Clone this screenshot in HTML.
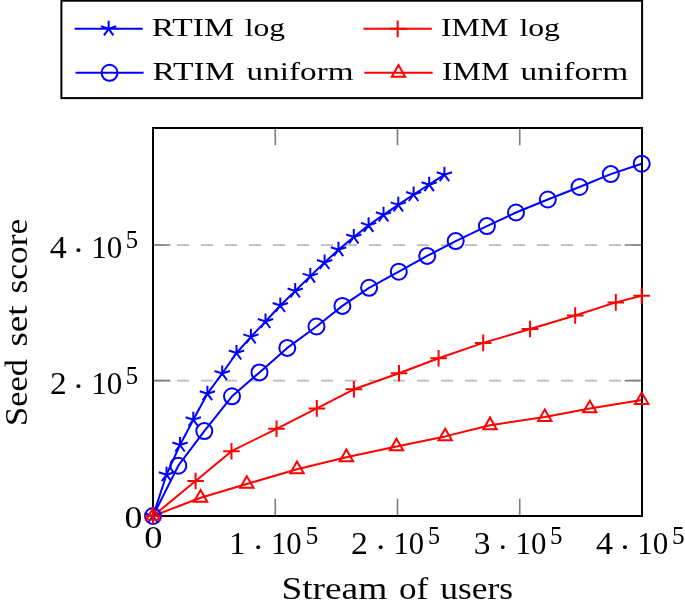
<!DOCTYPE html>
<html lang="en"><head><meta charset="utf-8"><title>Seed set score vs stream of users</title>
<style>html,body{margin:0;padding:0;background:#fff}body{width:685px;height:607px;overflow:hidden}svg{display:block}</style>
</head><body>
<svg width="685" height="607" viewBox="0 0 685 607" font-family="'Liberation Serif', serif" fill="#000">
<rect width="685" height="607" fill="#fff"/>
<line x1="153" x2="642" y1="380.65" y2="380.65" stroke="#bbbbbb" stroke-width="1.7" stroke-dasharray="12 12"/>
<line x1="153" x2="642" y1="245.05" y2="245.05" stroke="#bbbbbb" stroke-width="1.7" stroke-dasharray="12 12"/>
<path d="M153.00 516V498.7M153.00 128V145.3M275.25 516V498.7M275.25 128V145.3M397.50 516V498.7M397.50 128V145.3M519.75 516V498.7M519.75 128V145.3M642.00 516V498.7M642.00 128V145.3M153 516.00H170.3M642 516.00H624.7M153 380.65H170.3M642 380.65H624.7M153 245.05H170.3M642 245.05H624.7" stroke="#7c7c7c" stroke-width="1.6" fill="none"/>
<rect x="153" y="128" width="489" height="388" fill="none" stroke="#000" stroke-width="2.0"/>
<polyline points="153.0,516.0 166.5,474.7 180.0,445.0 193.3,419.7 207.4,393.7 222.2,373.5 236.5,353.0 250.9,336.9 265.5,321.5 280.3,305.5 295.2,291.0 310.3,276.1 324.6,262.5 338.5,249.7 353.8,237.0 368.6,225.4 383.5,214.8 398.3,204.9 413.6,194.5 429.2,184.7 444.4,174.7" stroke="#0000ff" stroke-width="2.0" fill="none" stroke-linejoin="round"/>
<polyline points="153.0,516.0 178.3,465.7 204.3,431.1 232.0,396.3 259.5,372.4 287.3,347.9 316.5,326.5 342.4,305.9 369.1,287.8 398.8,271.7 427.2,255.9 455.7,241.1 486.9,226.1 516.0,212.5 547.8,199.5 579.5,187.0 610.8,174.1 641.7,163.7" stroke="#0000ff" stroke-width="2.0" fill="none" stroke-linejoin="round"/>
<polyline points="153.0,516.0 195.6,481.0 231.5,451.2 276.5,428.8 316.8,408.4 353.9,389.3 399.0,373.3 438.6,358.2 483.2,342.9 530.1,329.0 575.2,315.5 615.8,302.4 641.7,295.7" stroke="#ff0000" stroke-width="2.0" fill="none" stroke-linejoin="round"/>
<polyline points="153.0,516.0 200.6,497.8 246.8,484.0 297.0,469.3 346.4,457.3 396.5,446.5 445.2,436.4 490.0,425.3 544.8,417.1 589.8,408.5 641.7,400.1" stroke="#ff0000" stroke-width="2.0" fill="none" stroke-linejoin="round"/>
<g stroke="#0000ff" stroke-width="2.0" fill="none">
<path d="M153.00 516.00L153.00 507.95M153.00 516.00L145.34 513.51M153.00 516.00L148.27 522.51M153.00 516.00L157.73 522.51M153.00 516.00L160.66 513.51M166.50 474.70L166.50 466.65M166.50 474.70L158.84 472.21M166.50 474.70L161.77 481.21M166.50 474.70L171.23 481.21M166.50 474.70L174.16 472.21M180.00 445.00L180.00 436.95M180.00 445.00L172.34 442.51M180.00 445.00L175.27 451.51M180.00 445.00L184.73 451.51M180.00 445.00L187.66 442.51M193.30 419.70L193.30 411.65M193.30 419.70L185.64 417.21M193.30 419.70L188.57 426.21M193.30 419.70L198.03 426.21M193.30 419.70L200.96 417.21M207.40 393.70L207.40 385.65M207.40 393.70L199.74 391.21M207.40 393.70L202.67 400.21M207.40 393.70L212.13 400.21M207.40 393.70L215.06 391.21M222.20 373.50L222.20 365.45M222.20 373.50L214.54 371.01M222.20 373.50L217.47 380.01M222.20 373.50L226.93 380.01M222.20 373.50L229.86 371.01M236.50 353.00L236.50 344.95M236.50 353.00L228.84 350.51M236.50 353.00L231.77 359.51M236.50 353.00L241.23 359.51M236.50 353.00L244.16 350.51M250.90 336.90L250.90 328.85M250.90 336.90L243.24 334.41M250.90 336.90L246.17 343.41M250.90 336.90L255.63 343.41M250.90 336.90L258.56 334.41M265.50 321.50L265.50 313.45M265.50 321.50L257.84 319.01M265.50 321.50L260.77 328.01M265.50 321.50L270.23 328.01M265.50 321.50L273.16 319.01M280.30 305.50L280.30 297.45M280.30 305.50L272.64 303.01M280.30 305.50L275.57 312.01M280.30 305.50L285.03 312.01M280.30 305.50L287.96 303.01M295.20 291.00L295.20 282.95M295.20 291.00L287.54 288.51M295.20 291.00L290.47 297.51M295.20 291.00L299.93 297.51M295.20 291.00L302.86 288.51M310.30 276.10L310.30 268.05M310.30 276.10L302.64 273.61M310.30 276.10L305.57 282.61M310.30 276.10L315.03 282.61M310.30 276.10L317.96 273.61M324.60 262.50L324.60 254.45M324.60 262.50L316.94 260.01M324.60 262.50L319.87 269.01M324.60 262.50L329.33 269.01M324.60 262.50L332.26 260.01M338.50 249.70L338.50 241.65M338.50 249.70L330.84 247.21M338.50 249.70L333.77 256.21M338.50 249.70L343.23 256.21M338.50 249.70L346.16 247.21M353.80 237.00L353.80 228.95M353.80 237.00L346.14 234.51M353.80 237.00L349.07 243.51M353.80 237.00L358.53 243.51M353.80 237.00L361.46 234.51M368.60 225.40L368.60 217.35M368.60 225.40L360.94 222.91M368.60 225.40L363.87 231.91M368.60 225.40L373.33 231.91M368.60 225.40L376.26 222.91M383.50 214.80L383.50 206.75M383.50 214.80L375.84 212.31M383.50 214.80L378.77 221.31M383.50 214.80L388.23 221.31M383.50 214.80L391.16 212.31M398.30 204.90L398.30 196.85M398.30 204.90L390.64 202.41M398.30 204.90L393.57 211.41M398.30 204.90L403.03 211.41M398.30 204.90L405.96 202.41M413.60 194.50L413.60 186.45M413.60 194.50L405.94 192.01M413.60 194.50L408.87 201.01M413.60 194.50L418.33 201.01M413.60 194.50L421.26 192.01M429.20 184.70L429.20 176.65M429.20 184.70L421.54 182.21M429.20 184.70L424.47 191.21M429.20 184.70L433.93 191.21M429.20 184.70L436.86 182.21M444.40 174.70L444.40 166.65M444.40 174.70L436.74 172.21M444.40 174.70L439.67 181.21M444.40 174.70L449.13 181.21M444.40 174.70L452.06 172.21"/>
</g>
<g stroke="#0000ff" stroke-width="2.0" fill="none">
<circle cx="153.00" cy="516.00" r="8.0"/>
<circle cx="178.30" cy="465.70" r="8.0"/>
<circle cx="204.30" cy="431.10" r="8.0"/>
<circle cx="232.00" cy="396.30" r="8.0"/>
<circle cx="259.50" cy="372.40" r="8.0"/>
<circle cx="287.30" cy="347.90" r="8.0"/>
<circle cx="316.50" cy="326.50" r="8.0"/>
<circle cx="342.40" cy="305.90" r="8.0"/>
<circle cx="369.10" cy="287.80" r="8.0"/>
<circle cx="398.80" cy="271.70" r="8.0"/>
<circle cx="427.20" cy="255.90" r="8.0"/>
<circle cx="455.70" cy="241.10" r="8.0"/>
<circle cx="486.90" cy="226.10" r="8.0"/>
<circle cx="516.00" cy="212.50" r="8.0"/>
<circle cx="547.80" cy="199.50" r="8.0"/>
<circle cx="579.50" cy="187.00" r="8.0"/>
<circle cx="610.80" cy="174.10" r="8.0"/>
<circle cx="641.70" cy="163.70" r="8.0"/>
</g>
<g stroke="#ff0000" stroke-width="2.0" fill="none">
<path d="M144.70 516.00H161.30M153.00 507.70V524.30M187.30 481.00H203.90M195.60 472.70V489.30M223.20 451.20H239.80M231.50 442.90V459.50M268.20 428.80H284.80M276.50 420.50V437.10M308.50 408.40H325.10M316.80 400.10V416.70M345.60 389.30H362.20M353.90 381.00V397.60M390.70 373.30H407.30M399.00 365.00V381.60M430.30 358.20H446.90M438.60 349.90V366.50M474.90 342.90H491.50M483.20 334.60V351.20M521.80 329.00H538.40M530.10 320.70V337.30M566.90 315.50H583.50M575.20 307.20V323.80M607.50 302.40H624.10M615.80 294.10V310.70M633.40 295.70H650.00M641.70 287.40V304.00"/>
</g>
<g stroke="#ff0000" stroke-width="2.0" fill="none">
<path d="M153.00 508.30L146.33 519.85L159.67 519.85ZM200.60 490.10L193.93 501.65L207.27 501.65ZM246.80 476.30L240.13 487.85L253.47 487.85ZM297.00 461.60L290.33 473.15L303.67 473.15ZM346.40 449.60L339.73 461.15L353.07 461.15ZM396.50 438.80L389.83 450.35L403.17 450.35ZM445.20 428.70L438.53 440.25L451.87 440.25ZM490.00 417.60L483.33 429.15L496.67 429.15ZM544.80 409.40L538.13 420.95L551.47 420.95ZM589.80 400.80L583.13 412.35L596.47 412.35ZM641.70 392.40L635.03 403.95L648.37 403.95Z"/>
</g>
<rect x="61.4" y="0.7" width="580.7" height="97.4" fill="#fff" stroke="#000" stroke-width="2.0"/>
<g stroke="#0000ff" stroke-width="2.0" fill="none"><line x1="74.6" x2="142.7" y1="28.8" y2="28.8"/>
<path d="M108.65 28.80L108.65 20.75M108.65 28.80L100.99 26.31M108.65 28.80L103.92 35.31M108.65 28.80L113.38 35.31M108.65 28.80L116.31 26.31"/>
</g>
<g stroke="#0000ff" stroke-width="2.0" fill="none"><line x1="75.5" x2="143.6" y1="72.8" y2="72.8"/>
<circle cx="109.55" cy="72.8" r="8.0"/>
</g>
<g stroke="#ff0000" stroke-width="2.0" fill="none"><line x1="363.5" x2="431.8" y1="28.85" y2="28.85"/>
<path d="M389.35 28.85H405.95M397.65 20.55V37.15"/>
</g>
<g stroke="#ff0000" stroke-width="2.0" fill="none"><line x1="364.3" x2="432.7" y1="72.8" y2="72.8"/>
<path d="M398.50 65.10L391.83 76.65L405.17 76.65Z"/>
</g>
<text x="151.89" y="36.45" font-size="25.2" textLength="82.02" lengthAdjust="spacingAndGlyphs">RTIM</text>
<text x="244.73" y="36.45" font-size="25.2" textLength="40.43" lengthAdjust="spacingAndGlyphs">log</text>
<text x="152.62" y="79.70" font-size="25.2" textLength="82.00" lengthAdjust="spacingAndGlyphs">RTIM</text>
<text x="246.64" y="79.70" font-size="25.2" textLength="106.88" lengthAdjust="spacingAndGlyphs">uniform</text>
<text x="440.97" y="36.45" font-size="25.2" textLength="67.24" lengthAdjust="spacingAndGlyphs">IMM</text>
<text x="519.42" y="36.45" font-size="25.2" textLength="40.56" lengthAdjust="spacingAndGlyphs">log</text>
<text x="441.97" y="79.70" font-size="25.2" textLength="67.33" lengthAdjust="spacingAndGlyphs">IMM</text>
<text x="520.63" y="79.70" font-size="25.2" textLength="107.59" lengthAdjust="spacingAndGlyphs">uniform</text>
<text x="281.41" y="599.10" font-size="32.5" textLength="105.81" lengthAdjust="spacingAndGlyphs">Stream</text>
<text x="398.94" y="599.10" font-size="32.5" textLength="29.32" lengthAdjust="spacingAndGlyphs">of</text>
<text x="440.29" y="599.10" font-size="32.5" textLength="72.80" lengthAdjust="spacingAndGlyphs">users</text>
<text transform="translate(27.20 425.99) rotate(-90)" font-size="32.5" textLength="66.91" lengthAdjust="spacingAndGlyphs">Seed</text>
<text transform="translate(27.20 346.58) rotate(-90)" font-size="32.5" textLength="41.15" lengthAdjust="spacingAndGlyphs">set</text>
<text transform="translate(27.20 293.47) rotate(-90)" font-size="32.5" textLength="74.71" lengthAdjust="spacingAndGlyphs">score</text>
<text x="49.76" y="258.00" font-size="31.5" textLength="16.99" lengthAdjust="spacingAndGlyphs">4</text>
<text x="72.72" y="261.20" font-size="31.5" textLength="11.39" lengthAdjust="spacingAndGlyphs">·</text>
<text x="91.21" y="258.00" font-size="31.5" textLength="31.04" lengthAdjust="spacingAndGlyphs">10</text>
<text x="125.67" y="247.70" font-size="24.8" textLength="12.37" lengthAdjust="spacingAndGlyphs">5</text>
<text x="50.09" y="393.50" font-size="31.5" textLength="16.71" lengthAdjust="spacingAndGlyphs">2</text>
<text x="72.72" y="396.70" font-size="31.5" textLength="11.39" lengthAdjust="spacingAndGlyphs">·</text>
<text x="91.21" y="393.50" font-size="31.5" textLength="31.04" lengthAdjust="spacingAndGlyphs">10</text>
<text x="125.67" y="384.20" font-size="24.8" textLength="12.37" lengthAdjust="spacingAndGlyphs">5</text>
<text x="229.11" y="554.40" font-size="31.5" textLength="16.44" lengthAdjust="spacingAndGlyphs">1</text>
<text x="252.55" y="557.60" font-size="31.5" textLength="11.43" lengthAdjust="spacingAndGlyphs">·</text>
<text x="270.97" y="554.40" font-size="31.5" textLength="30.70" lengthAdjust="spacingAndGlyphs">10</text>
<text x="305.78" y="544.10" font-size="24.8" textLength="12.60" lengthAdjust="spacingAndGlyphs">5</text>
<text x="350.99" y="554.40" font-size="31.5" textLength="16.87" lengthAdjust="spacingAndGlyphs">2</text>
<text x="374.99" y="557.60" font-size="31.5" textLength="11.38" lengthAdjust="spacingAndGlyphs">·</text>
<text x="393.42" y="554.40" font-size="31.5" textLength="30.67" lengthAdjust="spacingAndGlyphs">10</text>
<text x="428.07" y="544.10" font-size="24.8" textLength="12.09" lengthAdjust="spacingAndGlyphs">5</text>
<text x="473.81" y="554.40" font-size="31.5" textLength="16.75" lengthAdjust="spacingAndGlyphs">3</text>
<text x="497.62" y="557.60" font-size="31.5" textLength="10.54" lengthAdjust="spacingAndGlyphs">·</text>
<text x="515.58" y="554.40" font-size="31.5" textLength="30.89" lengthAdjust="spacingAndGlyphs">10</text>
<text x="550.12" y="544.10" font-size="24.8" textLength="12.48" lengthAdjust="spacingAndGlyphs">5</text>
<text x="596.07" y="554.40" font-size="31.5" textLength="16.99" lengthAdjust="spacingAndGlyphs">4</text>
<text x="619.17" y="557.60" font-size="31.5" textLength="11.40" lengthAdjust="spacingAndGlyphs">·</text>
<text x="637.15" y="554.40" font-size="31.5" textLength="31.11" lengthAdjust="spacingAndGlyphs">10</text>
<text x="671.90" y="544.10" font-size="24.8" textLength="12.65" lengthAdjust="spacingAndGlyphs">5</text>
<text x="144.34" y="548.00" font-size="31.5" textLength="18.24" lengthAdjust="spacingAndGlyphs">0</text>
<text x="124.45" y="527.80" font-size="31.5" textLength="17.88" lengthAdjust="spacingAndGlyphs">0</text>
</svg>
</body></html>
